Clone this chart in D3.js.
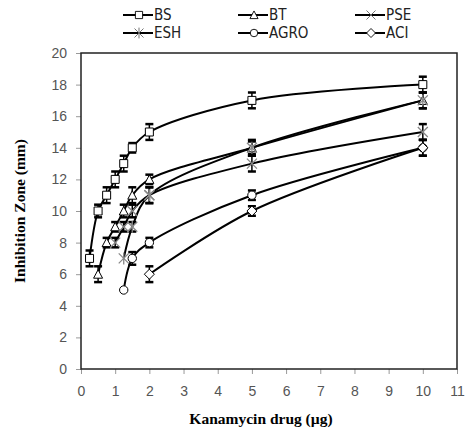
<!DOCTYPE html>
<html>
<head>
<meta charset="utf-8">
<script src="https://cdnjs.cloudflare.com/ajax/libs/d3/7.8.5/d3.min.js"></script>
<style>
  body { margin: 0; background: #fff; }
  svg { display: block; }
</style>
</head>
<body>
<div id="chart"></div>
<script>

// values
var names = ["BS", "BT", "PSE", "ESH", "AGRO", "ACI"];
var shapes = ["square", "triangle", "cross", "star", "circle", "diamond"];

var xBS = [0.25, 0.5, 0.75, 1, 1.25, 1.5, 2, 5, 10];
var yBS = [7, 10, 11, 12, 13, 14, 15, 17, 18];
var eBS = [0.5, 0.4, 0.5, 0.5, 0.5, 0.3, 0.5, 0.5, 0.5];

var xBT = [0.5, 0.75, 1, 1.25, 1.5, 2, 5, 10];
var yBT = [6, 8, 9, 10, 11, 12, 14, 17];
var eBT = [0.5, 0.3, 0.3, 0.4, 0.5, 0.3, 0.4, 0.5];

var xPSE = [1, 1.25, 1.5, 2, 5, 10];
var yPSE = [8, 9, 10, 11, 13, 15];
var ePSE = [0.3, 0.3, 0.4, 0.5, 0.5, 0.5];

var xESH = [1.25, 1.5, 2, 5, 10];
var yESH = [7, 9, 11, 14, 17];
var eESH = [0, 0.3, 0.5, 0.5, 0.5];

var xAGRO = [1.25, 1.5, 2, 5, 10];
var yAGRO = [5, 7, 8, 11, 14];
var eAGRO = [0, 0.4, 0.3, 0.3, 0.5];

var xACI = [2, 5, 10];
var yACI = [6, 10, 14];
var eACI = [0.5, 0.3, 0.5];

var xTicks = [0, 1, 2, 3, 4, 5, 6, 7, 8, 9, 10, 11];
var yTicks = [0, 2, 4, 6, 8, 10, 12, 14, 16, 18, 20];

var seriesX = [xBS, xBT, xPSE, xESH, xAGRO, xACI];
var seriesY = [yBS, yBT, yPSE, yESH, yAGRO, yACI];
var seriesE = [eBS, eBT, ePSE, eESH, eAGRO, eACI];

var series = names.map(function (n, i) {
    return {
        name: n,
        shape: shapes[i],
        points: seriesX[i].map(function (x, j) {
            return {x: x, y: seriesY[i][j], e: seriesE[i][j]};
        })
    };
});

var W = 466, H = 434;
var margin = {top: 53, right: 9, bottom: 65, left: 81},
    width = W - margin.left - margin.right,
    height = H - margin.top - margin.bottom;

var svg = d3.select("#chart").append("svg")
    .attr("width", W)
    .attr("height", H);

var g = svg.append("g")
    .attr("transform", "translate(" + margin.left + "," + margin.top + ")");

var x = d3.scaleLinear().domain([0, 11]).range([0, width]);
var y = d3.scaleLinear().domain([0, 20]).range([height, 0]);

// marker paths, centred on 0,0
function markerPath(shape) {
    var s = 4;
    if (shape === "square") return "M" + -s + "," + -s + "h" + 2 * s + "v" + 2 * s + "h" + -2 * s + "Z";
    if (shape === "triangle") return "M0," + (-s - 0.5) + "L" + (s + 0.5) + "," + s + "L" + (-s - 0.5) + "," + s + "Z";
    if (shape === "diamond") return "M0," + (-s - 1) + "L" + (s + 1) + ",0L0," + (s + 1) + "L" + (-s - 1) + ",0Z";
    if (shape === "circle") return d3.symbol(d3.symbolCircle, 55)();
    if (shape === "cross") return "M-5,-5L5,5M-5,5L5,-5";
    if (shape === "star") return "M-5,-5L5,5M-5,5L5,-5M0,-6L0,6";
    return "";
}

// axes
var yAxis = g.append("g")
    .attr("class", "y-axis")
    .call(d3.axisLeft(y).tickValues(yTicks).tickSize(5).tickPadding(9));

var xAxis = g.append("g")
    .attr("class", "x-axis")
    .attr("transform", "translate(0," + height + ")")
    .call(d3.axisBottom(x).tickValues(xTicks).tickSize(5).tickPadding(12));

g.selectAll(".y-axis .domain, .x-axis .domain").remove();
g.selectAll(".tick line").attr("stroke", "#999");
g.selectAll(".tick text")
    .style("font-family", "'Liberation Sans', Arial, sans-serif")
    .style("font-size", "14px")
    .attr("fill", "#555");

// frame
g.append("rect")
    .attr("x", 0).attr("y", 0)
    .attr("width", width).attr("height", height)
    .attr("fill", "none")
    .attr("stroke", "#222")
    .attr("stroke-width", 1.5);

var line = d3.line()
    .x(function (d) { return x(d.x); })
    .y(function (d) { return y(d.y); })
    .curve(d3.curveCatmullRom.alpha(0.5));

// lines
g.selectAll(".series-line")
    .data(series)
    .enter()
    .append("path")
    .attr("class", "series-line")
    .attr("fill", "none")
    .attr("stroke", "#000")
    .attr("stroke-width", 2)
    .attr("d", function (d) { return line(d.points); });

// error bars
series.forEach(function (s) {
    var bars = g.selectAll(null)
        .data(s.points.filter(function (p) { return p.e > 0; }))
        .enter()
        .append("g")
        .attr("class", "err");

    bars.append("line")
        .attr("x1", function (p) { return x(p.x); })
        .attr("x2", function (p) { return x(p.x); })
        .attr("y1", function (p) { return y(p.y - p.e); })
        .attr("y2", function (p) { return y(p.y + p.e); })
        .attr("stroke", "#000").attr("stroke-width", 1.5);

    [-1, 1].forEach(function (k) {
        bars.append("line")
            .attr("x1", function (p) { return x(p.x) - 4; })
            .attr("x2", function (p) { return x(p.x) + 4; })
            .attr("y1", function (p) { return y(p.y + k * p.e); })
            .attr("y2", function (p) { return y(p.y + k * p.e); })
            .attr("stroke", "#000").attr("stroke-width", 2.5);
    });
});

// markers
series.forEach(function (s) {
    var open = s.shape !== "cross" && s.shape !== "star";
    g.selectAll(null)
        .data(s.points)
        .enter()
        .append("path")
        .attr("transform", function (p) { return "translate(" + x(p.x) + "," + y(p.y) + ")"; })
        .attr("d", markerPath(s.shape))
        .attr("fill", open ? "#fff" : "none")
        .attr("stroke", open ? "#000" : "#888")
        .attr("stroke-width", open ? 1 : 1.3);
});

// legend
var legCols = [123, 238, 355];
var legRows = [15, 33];
var legend = svg.selectAll(".legend")
    .data(series)
    .enter()
    .append("g")
    .attr("class", "legend")
    .attr("transform", function (d, i) {
        return "translate(" + legCols[i % 3] + "," + legRows[Math.floor(i / 3)] + ")";
    });

legend.append("line")
    .attr("x1", 0).attr("x2", 30)
    .attr("y1", 0).attr("y2", 0)
    .attr("stroke", "#000").attr("stroke-width", 2);

legend.append("path")
    .attr("transform", "translate(16,0) scale(0.9)")
    .attr("d", function (d) { return markerPath(d.shape); })
    .attr("fill", function (d) { return (d.shape === "cross" || d.shape === "star") ? "none" : "#fff"; })
    .attr("stroke", function (d) { return (d.shape === "cross" || d.shape === "star") ? "#666" : "#000"; })
    .attr("stroke-width", 1);

legend.append("text")
    .attr("x", 31)
    .attr("y", 0)
    .attr("dy", "0.36em")
    .style("font-family", "'Liberation Sans Narrow', 'DejaVu Sans Condensed', sans-serif")
    .style("font-size", "15px")
    .attr("fill", "#222")
    .text(function (d) { return d.name; });

// axis titles
svg.append("text")
    .attr("x", margin.left + width / 2 - 8)
    .attr("y", 424)
    .attr("text-anchor", "middle")
    .style("font-family", "'Liberation Serif', 'Times New Roman', serif")
    .style("font-weight", "bold")
    .style("font-size", "15.5px")
    .text("Kanamycin drug (µg)");

svg.append("text")
    .attr("transform", "translate(25," + (margin.top + height / 2) + ") rotate(-90)")
    .attr("text-anchor", "middle")
    .style("font-family", "'Liberation Serif', 'Times New Roman', serif")
    .style("font-weight", "bold")
    .style("font-size", "15.5px")
    .text("Inhibition Zone (mm)");

</script>
</body>
</html>
